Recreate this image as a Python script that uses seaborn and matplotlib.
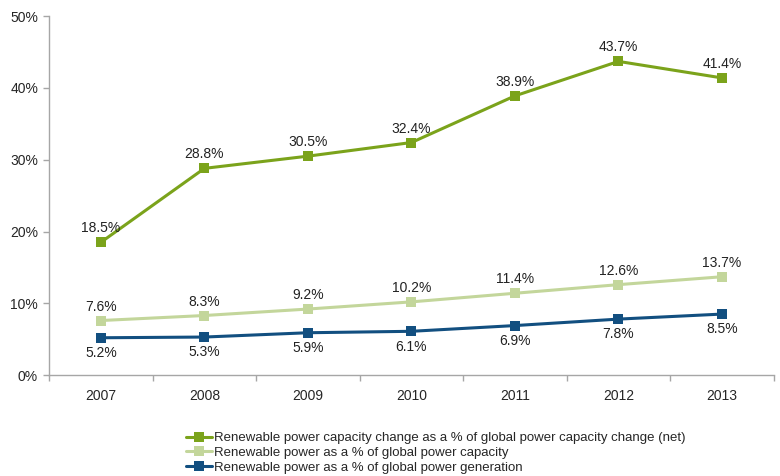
import pandas as pd
import matplotlib.pyplot as plt
from matplotlib.ticker import FixedLocator, PercentFormatter
import seaborn as sns

years = [2007, 2008, 2009, 2010, 2011, 2012, 2013]
capacity_change = [18.5, 28.8, 30.5, 32.4, 38.9, 43.7, 41.4]
capacity_share = [7.6, 8.3, 9.2, 10.2, 11.4, 12.6, 13.7]
generation_share = [5.2, 5.3, 5.9, 6.1, 6.9, 7.8, 8.5]

series_names = [
    "Renewable power capacity change as a % of global power capacity change (net)",
    "Renewable power as a % of global power capacity",
    "Renewable power as a % of global power generation",
]
colors = ["#7BA31B", "#C3D69B", "#124F80"]

frames = []
for name, vals in zip(series_names, [capacity_change, capacity_share, generation_share]):
    frames.append(pd.DataFrame({"year": years, "value": vals, "series": name}))
data = pd.concat(frames, ignore_index=True)

sns.set_style("white")
plt.rcParams["font.family"] = ["Liberation Sans", "DejaVu Sans"]

fig = plt.figure(figsize=(7.8, 4.76), dpi=100)
ax = fig.add_axes([0.063, 0.212, 0.929, 0.754])

sns.lineplot(
    data=data, x="year", y="value", hue="series", palette=colors,
    hue_order=series_names, marker="s", markersize=7, markeredgewidth=0,
    linewidth=2.2, ax=ax,
)

# data labels: green ones above, blue ones below
for name, vals, above in zip(series_names,
                             [capacity_change, capacity_share, generation_share],
                             [True, True, False]):
    for x, v in zip(years, vals):
        ax.annotate(f"{v:.1f}%", (x, v), xytext=(0, 5 if above else -6),
                    textcoords="offset points", ha="center",
                    va="bottom" if above else "top", fontsize=10, color="#222222")

ax.set_xlim(2006.5, 2013.5)
ax.set_ylim(0, 50)
ax.set_yticks([0, 10, 20, 30, 40, 50])
ax.yaxis.set_major_formatter(PercentFormatter(decimals=0))
ax.set_xticks(years)
ax.xaxis.set_minor_locator(FixedLocator([y + 0.5 for y in [2006] + years]))
ax.tick_params(axis="x", which="major", length=0, pad=10, labelsize=10)
ax.tick_params(axis="x", which="minor", length=4, color="#A6A6A6", width=1, bottom=True)
ax.tick_params(axis="y", length=4, color="#A6A6A6", width=1, left=True, labelsize=10, pad=4)
ax.set_xlabel("")
ax.set_ylabel("")

sns.despine(ax=ax)
for side in ["left", "bottom"]:
    ax.spines[side].set_color("#A6A6A6")
    ax.spines[side].set_linewidth(1)

handles, labels = ax.get_legend_handles_labels()
ax.get_legend().remove()
fig.legend(handles, labels, loc="upper left", bbox_to_anchor=(186 / 780, 1 - 432 / 476),
           frameon=False, fontsize=9.5, handlelength=2.0, handletextpad=0.1,
           labelspacing=0.2, borderaxespad=0, borderpad=0)

fig.savefig("out.png", dpi=100)
